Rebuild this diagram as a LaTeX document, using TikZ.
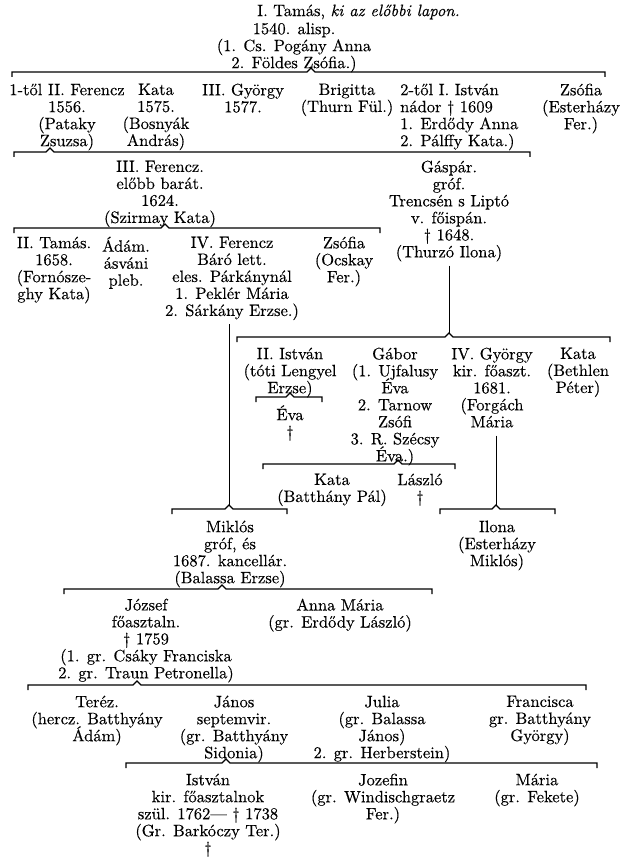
\documentclass[tikz,border=0pt]{standalone}
\usepackage{fontspec}
\setmainfont{lmroman10-regular.otf}[ItalicFont=lmroman10-italic.otf, FakeBold=0.3]
\newcommand{\famfont}{\fontsize{16.5}{17}\selectfont\lineskiplimit=-20pt\relax}
\begin{document}
\begin{tikzpicture}[x=1pt, y=-1pt,
  fam/.style={align=center, anchor=north, inner sep=0pt,
    font=\famfont, execute at begin node=\strut},
  famleft/.style={fam, align=left, anchor=north west},
  brk/.style={line width=1.2pt},
  stem/.style={line width=1pt}]
\useasboundingbox (0,0) rectangle (620,861);
% I. Tamas
\node[fam, anchor=north west] (tamas1h) at (257,4) {I. Tamás, \textit{ki az előbbi lapon.}};
\node[fam] (tamas1) at (294,22.5) {1540. alisp.\\(1. Cs. Pogány Anna\\2. Földes Zsófia.)};
\coordinate (tamas1c) at (311,68);
\draw[brk] (12,77) -- (12,72) -- (307,72) -- (tamas1c) -- (315,72) -- (605,72) -- (605,77);
% children of I. Tamas
\node[fam] (ferencz2) at (67,83.5) {1-től II. Ferencz\\1556.\\(Pataky\\Zsuzsa)};
\node[fam] (kata1) at (156,83.5) {Kata\\1575.\\(Bosnyák\\András)};
\node[fam] (gyorgy3) at (243,83.5) {III. György\\1577.};
\node[fam] (brigitta) at (347,83.5) {Brigitta\\(Thurn Fül.)};
\node[famleft] (istvan1) at (400,83.5) {2-től I. István\\nádor † 1609\\1. Erdődy Anna\\2. Pálffy Kata.)};
\node[fam] (zsofia1) at (581,83.5) {Zsófia\\(Esterházy\\Fer.)};
\coordinate (ferencz2c) at (50,148);
\draw[brk] (14,157) -- (14,152) -- (46,152) -- (ferencz2c) -- (54,152) -- (530,152) -- (530,157);
% children of II. Ferencz
\node[fam] (ferencz3) at (160,160.5) {III. Ferencz.\\előbb barát.\\1624.\\(Szirmay Kata)};
\node[fam] (gaspar) at (449,160.5) {Gáspár.\\gróf.\\Trencsén s Liptó\\v. főispán.\\† 1648.\\(Thurzó Ilona)};
\coordinate (ferencz3c) at (165,224);
\draw[brk] (14,233) -- (14,228) -- (161,228) -- (ferencz3c) -- (169,228) -- (380,228) -- (380,233);
% children of III. Ferencz
\node[fam] (tamas2) at (54,236.5) {II. Tamás.\\1658.\\(Fornósze-\\ghy Kata)};
\node[fam] (adam) at (126,236.5) {Ádám.\\ásváni\\pleb.};
\node[fam] (ferencz4) at (232,236.5) {IV. Ferencz\\Báró lett.\\eles. Párkánynál\\1. Peklér Mária\\2. Sárkány Erzse.)};
\node[fam] (zsofia2) at (344,236.5) {Zsófia\\(Ocskay\\Fer.)};
% children of Gaspar
\coordinate (gasparc) at (449,333);
\draw[stem] ([yshift=-3pt]gaspar.south -| gasparc) -- (gasparc);
\draw[brk] (237,342) -- (237,337) -- (445,337) -- (gasparc) -- (453,337) -- (610,337) -- (610,342);
\node[fam] (istvan2) at (290,347.5) {II. István\\(tóti Lengyel\\Erzse)};
\node[fam] (gabor) at (395,347.5) {Gábor\\(1. Ujfalusy\\Éva\\2. Tarnow\\Zsófi\\3. R. Szécsy\\Éva.)};
\node[fam] (gyorgy4) at (492,347.5) {IV. György\\kir. főaszt.\\1681.\\(Forgách\\Mária};
\node[fam] (kata2) at (578,347.5) {Kata\\(Bethlen\\Péter)};
\coordinate (istvan2c) at (290,393);
\draw[brk] (256,402) -- (256,397) -- (286,397) -- (istvan2c) -- (294,397) -- (322,397) -- (322,402);
\node[fam] (eva1) at (290,405) {Éva\\†};
\coordinate (gaborc) at (398,460);
\draw[brk] (263,469) -- (263,464) -- (394,464) -- (gaborc) -- (402,464) -- (455,464) -- (455,469);
\node[fam] (kata3) at (332,473.5) {Kata\\(Batthány Pál)};
\node[fam] (laszlo) at (420,473.5) {László\\†};
% Ilona
\coordinate (gyorgy4c) at (496,505);
\draw[stem] ([yshift=-3pt]gyorgy4.south -| gyorgy4c) -- (gyorgy4c);
\draw[brk] (440,514) -- (440,509) -- (492,509) -- (gyorgy4c) -- (500,509) -- (555,509) -- (555,514);
\node[fam] (ilona) at (497,520.5) {Ilona\\(Esterházy\\Miklós)};
% Miklos
\coordinate (ferencz4c) at (229,505);
\draw[stem] ([yshift=-3pt]ferencz4.south -| ferencz4c) -- (ferencz4c);
\draw[brk] (172,514) -- (172,509) -- (225,509) -- (ferencz4c) -- (233,509) -- (287,509) -- (287,514);
\node[fam] (miklos) at (230,520.5) {Miklós\\gróf, és\\1687. kancellár.\\(Balassa Erzse)};
\coordinate (miklosc) at (222,585);
\draw[brk] (64,594) -- (64,589) -- (218,589) -- (miklosc) -- (226,589) -- (432,589) -- (432,594);
\node[fam] (jozsef) at (146,598.5) {József\\főasztaln.\\† 1759\\(1. gr. Csáky Franciska\\2. gr. Traun Petronella)};
\node[fam] (annamaria) at (340,598.5) {Anna Mária\\(gr. Erdődy László)};
% children of Jozsef
\coordinate (jozsefc) at (137,681);
\draw[brk] (28,690) -- (28,685) -- (133,685) -- (jozsefc) -- (141,685) -- (586,685) -- (586,690);
\node[fam] (terez) at (97,695.5) {Teréz.\\(hercz. Batthyány\\Ádám)};
\node[fam] (janos) at (234,695.5) {János\\septemvir.\\(gr. Batthyány\\Sidonia)};
\node[fam] (julia) at (382,695.5) {Julia\\(gr. Balassa\\János)\\2. gr. Herberstein)};
\node[fam] (francisca) at (540,695.5) {Francisca\\gr. Batthyány\\György)};
% children of Janos
\coordinate (janosc) at (226,759);
\draw[brk] (126,768) -- (126,763) -- (222,763) -- (janosc) -- (230,763) -- (597,763) -- (597,768);
\node[fam] (istvan3) at (208,773.5) {István\\kir. főasztalnok\\szül. 1762— † 1738\\(Gr. Barkóczy Ter.)\\†};
\node[fam] (jozefin) at (383,773.5) {Jozefin\\(gr. Windischgraetz\\Fer.)};
\node[fam] (maria) at (537,773.5) {Mária\\(gr. Fekete)};
\end{tikzpicture}
\end{document}
